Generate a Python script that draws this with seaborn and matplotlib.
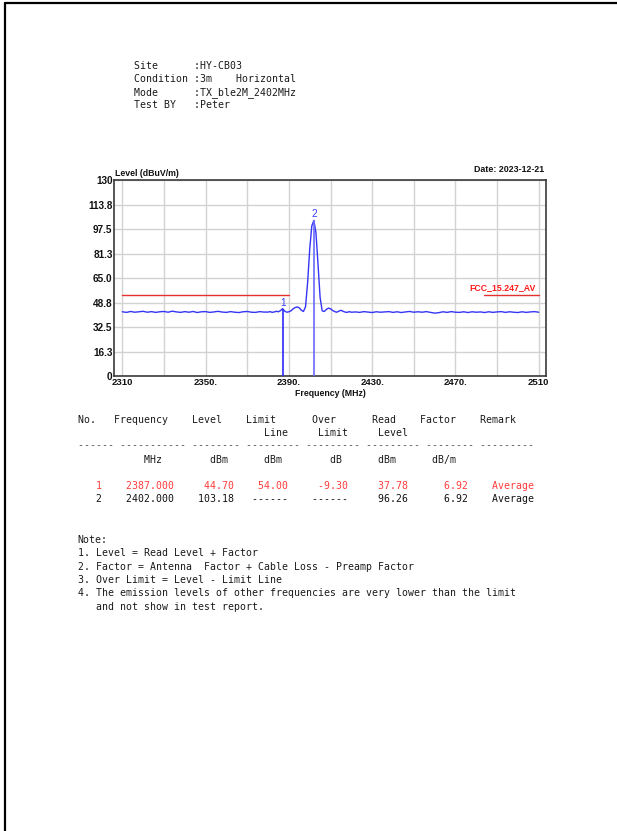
import matplotlib
matplotlib.use("Agg")
import matplotlib.pyplot as plt
import seaborn as sns
import pandas as pd
from matplotlib.lines import Line2D

# ---------------- data ----------------
freq_low = [2310, 2312, 2314, 2316, 2318, 2320, 2322, 2324, 2326, 2328,
            2330, 2332, 2334, 2336, 2338, 2340, 2342, 2344, 2346, 2348,
            2350, 2352, 2354, 2356, 2358, 2360, 2362, 2364, 2366, 2368,
            2370, 2372, 2374, 2376, 2378]
level_low = [42.6, 42.2, 42.8, 42.3, 42.6, 42.9, 42.3, 42.7, 42.2, 42.6,
             42.8, 42.3, 43.0, 42.5, 42.2, 42.7, 42.3, 42.8, 42.1, 42.6,
             42.7, 42.2, 42.5, 42.9, 42.4, 42.2, 42.7, 42.3, 42.1, 42.6,
             42.8, 42.3, 42.2, 42.7, 42.4]
freq_mid = [2380, 2381, 2382, 2383, 2384, 2385, 2386, 2387, 2388, 2389,
            2390, 2391, 2392, 2393, 2394, 2395, 2396, 2397, 2398, 2399,
            2400, 2401, 2402, 2403, 2404, 2405, 2406, 2407, 2408, 2409,
            2410, 2411, 2412, 2413, 2414, 2415, 2416, 2417, 2418, 2419, 2420]
level_mid = [42.4, 42.7, 42.2, 42.5, 42.9, 42.6, 43.4, 44.7, 43.0, 42.3,
             42.6, 43.2, 44.5, 45.4, 45.8, 45.2, 43.6, 42.8, 46.0, 62.0,
             84.0, 99.5, 103.18, 95.0, 74.0, 52.0, 43.2, 42.8, 44.2, 45.0,
             44.6, 43.5, 42.7, 42.3, 43.0, 43.6, 42.9, 42.4, 42.2, 42.7, 42.3]
freq_high = [2422, 2424, 2426, 2428, 2430, 2432, 2434, 2436, 2438, 2440,
             2442, 2444, 2446, 2448, 2450, 2452, 2454, 2456, 2458, 2460,
             2462, 2464, 2466, 2468, 2470, 2472, 2474, 2476, 2478, 2480,
             2482, 2484, 2486, 2488, 2490, 2492, 2494, 2496, 2498, 2500,
             2502, 2504, 2506, 2508, 2510]
level_high = [42.5, 42.2, 42.7, 42.4, 42.1, 42.6, 42.3, 42.5, 42.7, 42.2,
              42.6, 42.1, 42.5, 42.8, 42.3, 42.6, 42.3, 42.7, 42.2, 41.7,
              42.0, 42.6, 42.2, 42.7, 42.3, 42.2, 42.6, 42.1, 42.6, 42.3,
              42.5, 42.1, 42.6, 42.2, 42.5, 42.7, 42.2, 42.6, 42.3, 42.1,
              42.6, 42.2, 42.5, 42.7, 42.3]

marker_no = ["1", "2"]
marker_freq = [2387.0, 2402.0]
marker_level = [44.70, 103.18]

limit_level = 54.0
limit_starts = [2310, 2483.5]
limit_ends = [2390, 2510]
limit_name = "FCC_15.247_AV"

xtick_vals = [2310, 2350, 2390, 2430, 2470, 2510]
xtick_labels = ["2310", "2350.", "2390.", "2430.", "2470.", "2510"]
xgrid_vals = [2310, 2330, 2350, 2370, 2390, 2410, 2430, 2450, 2470, 2490, 2510]
ytick_vals = [0, 16.25, 32.5, 48.75, 65.0, 81.25, 97.5, 113.75, 130]
ytick_labels = ["0", "16.3", "32.5", "48.8", "65.0", "81.3", "97.5", "113.8", "130"]

info_site = "HY-CB03"
info_distance = "3m"
info_pol = "Horizontal"
info_mode = "TX_ble2M_2402MHz"
info_tester = "Peter"
date_text = "Date: 2023-12-21"

tab_no = ["1", "2"]
tab_freq = ["2387.000", "2402.000"]
tab_level = ["44.70", "103.18"]
tab_limit = ["54.00", "------"]
tab_over = ["-9.30", "------"]
tab_read = ["37.78", "96.26"]
tab_factor = ["6.92", "6.92"]
tab_remark = ["Average", "Average"]
tab_colors = ["#ff3b3b", "#111111"]

notes = ["Note:",
         "1. Level = Read Level + Factor",
         "2. Factor = Antenna  Factor + Cable Loss - Preamp Factor",
         "3. Over Limit = Level - Limit Line",
         "4. The emission levels of other frequencies are very lower than the limit",
         "   and not show in test report."]

# ---------------- figure ----------------
sns.set_theme(style="white")
plt.rcParams["font.family"] = ["Liberation Sans", "DejaVu Sans"]

W, H = 617, 831
fig = plt.figure(figsize=(W / 100, H / 100), dpi=100)
fig.patch.set_facecolor("white")


def fx(x):
    return x / W


def fy(y):
    return 1 - y / H


# page border (top and left)
fig.add_artist(Line2D([fx(4.5), 1.0], [fy(2.5), fy(2.5)], color="black", lw=1.6))
fig.add_artist(Line2D([fx(4.5), fx(4.5)], [fy(2.5), 0.0], color="black", lw=1.6))

ax = fig.add_axes([fx(114), fy(376), (546 - 114) / W, (376 - 180) / H])
ax.set_facecolor("white")

df = pd.DataFrame({"freq": freq_low + freq_mid + freq_high,
                   "level": level_low + level_mid + level_high})
sns.lineplot(data=df, x="freq", y="level", ax=ax, color="#3535f5",
             lw=1.0, estimator=None, sort=False, zorder=3)

# marker lines
ax.vlines(marker_freq, 0, marker_level, colors=["#2a2aff", "#6a6aff"], lw=1.2, zorder=4)
for n, f, l in zip(marker_no, marker_freq, marker_level):
    ax.text(f, l + 2.0, n, color="#3a3aff", ha="center", va="baseline",
            fontsize=7.2, zorder=5)

# limit line
for s, e in zip(limit_starts, limit_ends):
    ax.plot([s, e], [limit_level, limit_level], color="#e53030", lw=1.0, zorder=2)
ax.text(2508.4, limit_level + 1.5, limit_name, color="#ff1a1a", ha="right",
        va="bottom", fontsize=6.3, fontweight="bold")

ax.set_xlim(2306, 2513.5)
ax.set_ylim(0, 130)
ax.set_xticks(xtick_vals)
ax.set_xticklabels(xtick_labels)
ax.set_xticks(xgrid_vals, minor=True)
ax.set_yticks(ytick_vals)
ax.set_yticklabels(ytick_labels)
ax.grid(which="both", color="#d2d2d2", lw=1.0)
ax.set_axisbelow(True)
ax.tick_params(which="both", length=0, colors="#111111")
ax.tick_params(axis="x", pad=1.5, labelsize=6.8)
ax.tick_params(axis="y", pad=1.0, labelsize=7.2)
for lab in ax.get_xticklabels() + ax.get_yticklabels():
    lab.set_fontweight("bold")
ax.set_xlabel("")
ax.set_ylabel("")
for sp in ax.spines.values():
    sp.set_color("#3a3a3a")
    sp.set_linewidth(1.2)

fig.text(fx(115), fy(174), "Level (dBuV/m)", ha="left", va="center",
         fontsize=6.3, fontweight="bold", color="#111111")
fig.text(fx(544), fy(169.5), date_text, ha="right", va="center",
         fontsize=6.4, fontweight="bold", color="#111111")
fig.text(fx(330), fy(393.5), "Frequency (MHz)", ha="center", va="center",
         fontsize=6.3, fontweight="bold", color="#111111")

# ---------------- monospace text ----------------
mono = dict(family="DejaVu Sans Mono", fontsize=7.1, va="center", ha="left")


def place(items, width=80):
    line = [" "] * width
    for col, word in items:
        for i, ch in enumerate(word):
            line[col + i] = ch
    return "".join(line).rstrip()


info_lines = [
    place([(0, "Site"), (10, ":" + info_site)]),
    place([(0, "Condition"), (10, ":" + info_distance), (17, info_pol)]),
    place([(0, "Mode"), (10, ":" + info_mode)]),
    place([(0, "Test BY"), (10, ":" + info_tester)]),
]
for y, s in zip([65.7, 79, 92.3, 105.3], info_lines):
    fig.text(fx(134.3), fy(y), s, color="#1a1a1a", **mono)

hdr1 = place([(0, "No."), (6, "Frequency"), (19, "Level"), (28, "Limit"),
              (39, "Over"), (49, "Read"), (57, "Factor"), (67, "Remark")])
hdr2 = place([(31, "Line"), (40, "Limit"), (50, "Level")])
dashes = place([(0, "-" * 6), (7, "-" * 11), (19, "-" * 8), (28, "-" * 9),
                (38, "-" * 9), (48, "-" * 9), (58, "-" * 8), (67, "-" * 9)])
units = place([(11, "MHz"), (22, "dBm"), (31, "dBm"), (42, "dB"), (50, "dBm"), (59, "dB/m")])

x0 = 77.7
fig.text(fx(x0), fy(420), hdr1, color="#1a1a1a", **mono)
fig.text(fx(x0), fy(432.8), hdr2, color="#1a1a1a", **mono)
fig.text(fx(x0), fy(445.5), dashes, color="#555555", **mono)
fig.text(fx(x0), fy(460.3), units, color="#1a1a1a", **mono)

for i, y in enumerate([486, 499.3]):
    row = (f"{tab_no[i]:>4}{tab_freq[i]:>12}{tab_level[i]:>10}{tab_limit[i]:>9}"
           f"{tab_over[i]:>10}{tab_read[i]:>10}{tab_factor[i]:>10}    {tab_remark[i]}")
    fig.text(fx(x0), fy(y), row, color=tab_colors[i], **mono)

for i, s in enumerate(notes):
    fig.text(fx(x0), fy(540 + i * 13.3), s, color="#1a1a1a", **mono)

fig.savefig("out.png", dpi=100, facecolor="white")
